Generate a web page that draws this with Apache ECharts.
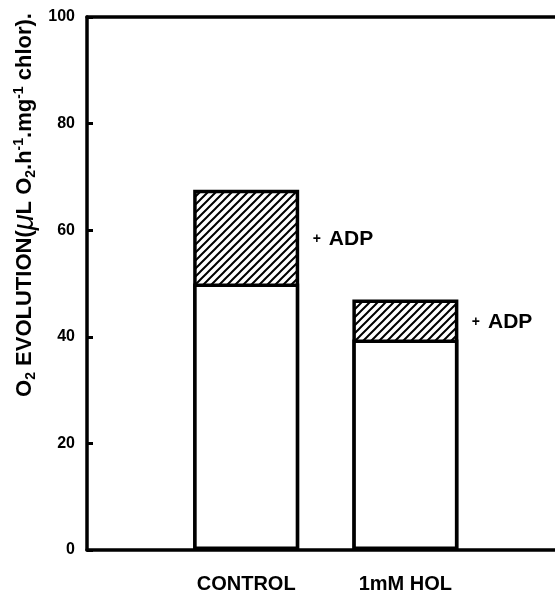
<!DOCTYPE html>
<html>
<head>
<meta charset="utf-8">
<script src="https://cdn.jsdelivr.net/npm/echarts@6/dist/echarts.min.js"></script>
<style>
html,body{margin:0;padding:0;background:#fff;}
#chart{width:555px;height:594px;}
</style>
</head>
<body>
<div id="chart"></div>
<script>
const categories = ['CONTROL', '1mM HOL'];
const baseValues = [50, 39.5];
const withAdpValues = [67.6, 47];
const adpLabels = ['ADP', 'ADP'];
const yTicks = [0, 20, 40, 60, 80, 100];

const positions = categories.map((c, i) => i + 1);
const pts = arr => arr.map((v, i) => [positions[i], v]);
const labelPts = withAdpValues.map((v, i) => [positions[i], (v + baseValues[i]) / 2]);

function hatch() {
  const s = 8;
  const c = document.createElement('canvas');
  c.width = s; c.height = s;
  const g = c.getContext('2d');
  g.fillStyle = '#fff';
  g.fillRect(0, 0, s, s);
  g.strokeStyle = '#000';
  g.lineWidth = 2;
  g.beginPath();
  g.moveTo(-2, s + 2); g.lineTo(s + 2, -2);
  g.moveTo(-2, 2); g.lineTo(2, -2);
  g.moveTo(s - 2, s + 2); g.lineTo(s + 2, s - 2);
  g.stroke();
  return c;
}

const font = 'Liberation Sans, Arial, sans-serif';
const catLabel = v => (Number.isInteger(v) && v >= 1 && v <= categories.length) ? categories[v - 1] : '';

const chart = echarts.init(document.getElementById('chart'), null, {renderer: 'canvas'});
chart.setOption({
  animation: false,
  backgroundColor: '#fff',
  grid: {left: 87, top: 17, bottom: 43, right: 0, containLabel: false},
  xAxis: [{
    type: 'value',
    min: 0, max: 2.94, interval: 1,
    position: 'bottom',
    axisLine: {lineStyle: {color: '#000', width: 3.5}},
    axisTick: {show: false},
    axisLabel: {color: '#000', fontSize: 20, fontWeight: 'bold', fontFamily: font, margin: 24,
      formatter: catLabel, showMinLabel: true, showMaxLabel: false},
    splitLine: {show: false}
  }, {
    type: 'value',
    min: 0, max: 2.94, interval: 1,
    position: 'top',
    axisLine: {show: true, lineStyle: {color: '#000', width: 3.5}},
    axisTick: {show: false},
    axisLabel: {show: false},
    splitLine: {show: false}
  }],
  yAxis: {
    type: 'value',
    min: 0, max: 100, interval: 20,
    axisLine: {show: true, lineStyle: {color: '#000', width: 3.5}},
    axisTick: {show: true, inside: true, length: 6, lineStyle: {color: '#000', width: 3}},
    axisLabel: {color: '#000', fontSize: 16, fontWeight: 'bold', fontFamily: font, margin: 12,
      formatter: v => yTicks.includes(v) ? String(v) : ''},
    splitLine: {show: false}
  },
  graphic: [{
    type: 'text',
    x: 25, y: 205,
    rotation: Math.PI / 2,
    style: {
      text: '{n|O}{sub|2}{n| EVOLUTION(}{mu|μ}{n|L O}{sub|2}{n|.h}{sup|-1}{n|.mg}{sup|-1}{n| chlor).}',
      align: 'center',
      verticalAlign: 'middle',
      rich: {
        n: {fontSize: 22, fontWeight: 'bold', fontFamily: font, fill: '#000', lineHeight: 26, verticalAlign: 'middle'},
        mu: {fontSize: 29, fontStyle: 'italic', fontFamily: font, fill: '#000', lineHeight: 26, verticalAlign: 'middle'},
        sub: {fontSize: 14, fontWeight: 'bold', fontFamily: font, fill: '#000', lineHeight: 14, verticalAlign: 'bottom'},
        sup: {fontSize: 14, fontWeight: 'bold', fontFamily: font, fill: '#000', lineHeight: 14, verticalAlign: 'top'}
      }
    }
  }],
  series: [{
    type: 'bar',
    name: 'with ADP',
    barWidth: 106,
    barGap: '-100%',
    z: 2,
    data: pts(withAdpValues),
    itemStyle: {color: {image: hatch(), repeat: 'repeat'}, borderColor: '#000', borderWidth: 3.5}
  }, {
    type: 'bar',
    name: 'base',
    barWidth: 106,
    barGap: '-100%',
    z: 3,
    data: pts(baseValues),
    itemStyle: {color: '#fff', borderColor: '#000', borderWidth: 3.5}
  }, {
    type: 'scatter',
    name: 'adpLabel',
    silent: true,
    z: 4,
    symbolSize: 1,
    data: labelPts,
    itemStyle: {color: 'rgba(0,0,0,0)', opacity: 1},
    label: {
      show: true,
      position: 'right',
      distance: 66,
      offset: [0, 3],
      color: '#000',
      opacity: 1,
      formatter: p => '{p|+}{t|' + adpLabels[p.dataIndex] + '}',
      rich: {
        p: {fontSize: 14, fontWeight: 'bold', fontFamily: font, color: '#000', padding: [0, 8, 0, 0]},
        t: {fontSize: 21, fontWeight: 'bold', fontFamily: font, color: '#000'}
      }
    }
  }]
});
</script>
</body>
</html>
